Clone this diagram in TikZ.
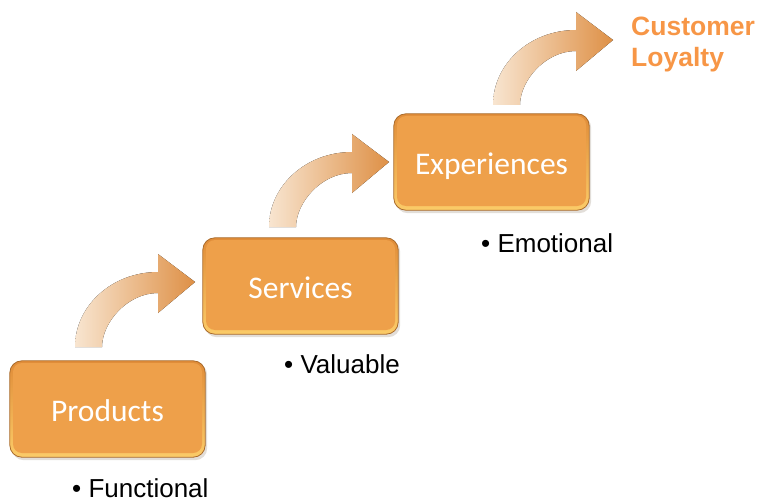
\documentclass[tikz,border=0pt]{standalone}
\usepackage{fontspec}
\setmainfont{Liberation Sans}
\newfontfamily\calib{Carlito}
\usetikzlibrary{backgrounds}
\definecolor{boxmid}{HTML}{EEA04A}
\definecolor{boxtop}{HTML}{E08C38}
\definecolor{boxbot}{HTML}{FBCB68}
\definecolor{boxline}{HTML}{A96A2A}
\definecolor{arrlight}{HTML}{F8E5D0}
\definecolor{arrdark}{HTML}{DE9046}
\definecolor{loyal}{HTML}{F79646}
\definecolor{shade}{HTML}{BFB5AA}
\tikzset{
  boxin/.style={rounded corners=9pt, fill=boxmid, minimum width=189pt, minimum height=90pt,
    inner sep=0pt, text height=28pt, text depth=2pt, text=white, font=\calib\fontsize{31.5}{36}\selectfont},
  frame/.style={rounded corners=12pt, draw=boxline, line width=0.8pt, top color=boxtop, bottom color=boxbot},
  shadowbox/.style={rounded corners=12pt, fill=shade, opacity=0.45},
  bendfill/.style={left color=arrlight, right color=arrdark, draw=none},
  bullet/.style={anchor=base west, inner sep=0pt, font=\fontsize{26}{30}\selectfont},
  loyaltxt/.style={anchor=base west, inner sep=0pt, text=loyal, font=\bfseries\fontsize{26.5}{30}\selectfont}
}
\newcommand\bendarrow[1]{%
  \fill[bendfill] (#1) .. controls ++(0,-41.4) and ++(-45.8,0) .. ++(83,-75)
    -- ++(0,-18) -- ++(37,28) -- ++(-37,31) -- ++(0,-20)
    .. controls ++(-30.9,0) and ++(0,-24.2) .. ++(-56,54) -- cycle;}
\begin{document}
\begin{tikzpicture}[x=1pt,y=-1pt]
\useasboundingbox (0,0) rectangle (760,500);

% boxes (inner part with text)
\node[boxin] (prod) at (107.5,408) {Products};
\node[boxin] (serv) at (300.5,285) {Services};
\node[boxin] (exp)  at (491.5,161) {Experiences};

\begin{scope}[on background layer]
  \foreach \n in {prod,serv,exp} {
    \fill[shadowbox] ([shift={(-1,0)}]\n.north west) rectangle ([shift={(5,7)}]\n.south east);
    \draw[frame] ([shift={(-3,-2)}]\n.north west) rectangle ([shift={(3,4)}]\n.south east);
  }
\end{scope}

% curved arrows
\coordinate (a1) at (75,347);
\coordinate (a2) at (269,227);
\coordinate (a3) at (493,105);
\bendarrow{a1}
\bendarrow{a2}
\bendarrow{a3}

% labels
\node[bullet] (lf) at (72,497) {• Functional};
\node[bullet] (lv) at (284,373) {• Valuable};
\node[bullet] (le) at (481,252) {• Emotional};

\node[loyaltxt] (cust) at (631,36) {Customer};
\node[loyaltxt] (loy)  at (631,67) {Loyalty};
\end{tikzpicture}
\end{document}
